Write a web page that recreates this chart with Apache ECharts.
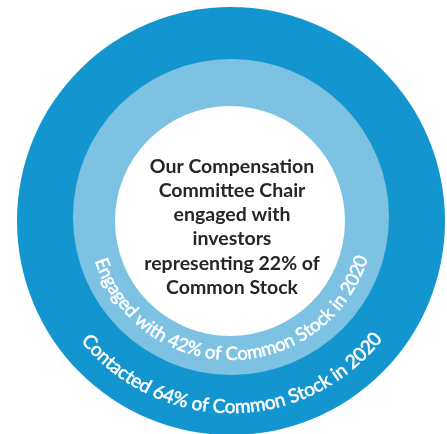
<!DOCTYPE html>
<html>
<head>
<meta charset="utf-8">
<script src="https://cdn.jsdelivr.net/npm/echarts@6/dist/echarts.min.js"></script>
<style>
html,body{margin:0;padding:0;background:#fff;}
#chart{width:447px;height:434px;}
</style>
</head>
<body>
<div id="chart"></div>
<script>
// ---- data ----
const ringNames = ['Contacted', 'Engaged with', 'Compensation Committee Chair engaged with'];
const ringPercents = [64, 42, 22];
const ringYear = 2020;
const ringColors = ['#1396CF', '#7DC2E3', '#FFFFFF'];
const centerLines = ['Our Compensation', 'Committee Chair', 'engaged with', 'investors', 'representing ' + ringPercents[2] + '% of', 'Common Stock'];
const arcTexts = [
  ringNames[0] + ' ' + ringPercents[0] + '% of Common Stock in ' + ringYear,
  ringNames[1] + ' ' + ringPercents[1] + '% of Common Stock in ' + ringYear
];

// ---- layout ----
const rings = [
  {center: [231, 221], r: 214},
  {center: [231, 217], r: 158},
  {center: [230, 221], r: 115}
];
const arcLayout = [
  {cx: 231, cy: 221, R: 186, a0: -49.5, a1: 50.5, font: 'normal 19px Lato'},
  {cx: 231, cy: 217, R: 137, a0: -70.1, a1: 71.2, font: 'normal 18.5px Lato'}
];

const chart = echarts.init(document.getElementById('chart'), null, {renderer: 'canvas'});

const series = ringPercents.map(function (v, i) {
  return {
    type: 'pie',
    name: ringNames[i],
    center: rings[i].center,
    radius: [0, rings[i].r],
    silent: true,
    label: {show: false},
    labelLine: {show: false},
    emphasis: {disabled: true},
    itemStyle: {color: ringColors[i], borderWidth: 0},
    animation: false,
    z: i + 1,
    data: [{name: ringNames[i], value: v}]
  };
});

// curved text via per-character graphic text
const ctx = document.createElement('canvas').getContext('2d');
const graphics = [];
arcTexts.forEach(function (txt, k) {
  const L = arcLayout[k];
  ctx.font = L.font;
  const chars = Array.from(txt);
  const widths = chars.map(function (c) { return ctx.measureText(c).width; });
  const pos = [];
  let acc = 0;
  widths.forEach(function (w) { pos.push(acc + w / 2); acc += w; });
  const p0 = pos[0], p1 = pos[pos.length - 1];
  chars.forEach(function (c, i) {
    if (c === ' ') return;
    const deg = L.a0 + (pos[i] - p0) / (p1 - p0) * (L.a1 - L.a0);
    const phi = deg * Math.PI / 180;
    graphics.push({
      type: 'text',
      x: L.cx + L.R * Math.sin(phi),
      y: L.cy + L.R * Math.cos(phi),
      rotation: phi,
      silent: true,
      z: 100,
      style: {
        text: c,
        fill: '#FFFFFF',
        stroke: '#FFFFFF',
        lineWidth: 0.5,
        font: L.font,
        align: 'center',
        verticalAlign: 'middle',
        textAlign: 'center',
        textVerticalAlign: 'middle'
      }
    });
  });
});

graphics.push({
  type: 'text',
  x: 232,
  y: 227,
  silent: true,
  z: 100,
  style: {
    text: centerLines.join('\n'),
    fill: '#262626',
    font: 'bold 19.5px Lato',
    lineHeight: 24.2,
    align: 'center',
    verticalAlign: 'middle',
    textAlign: 'center',
    textVerticalAlign: 'middle'
  }
});

chart.setOption({
  backgroundColor: '#FFFFFF',
  animation: false,
  series: series,
  graphic: {elements: graphics}
});
</script>
</body>
</html>
